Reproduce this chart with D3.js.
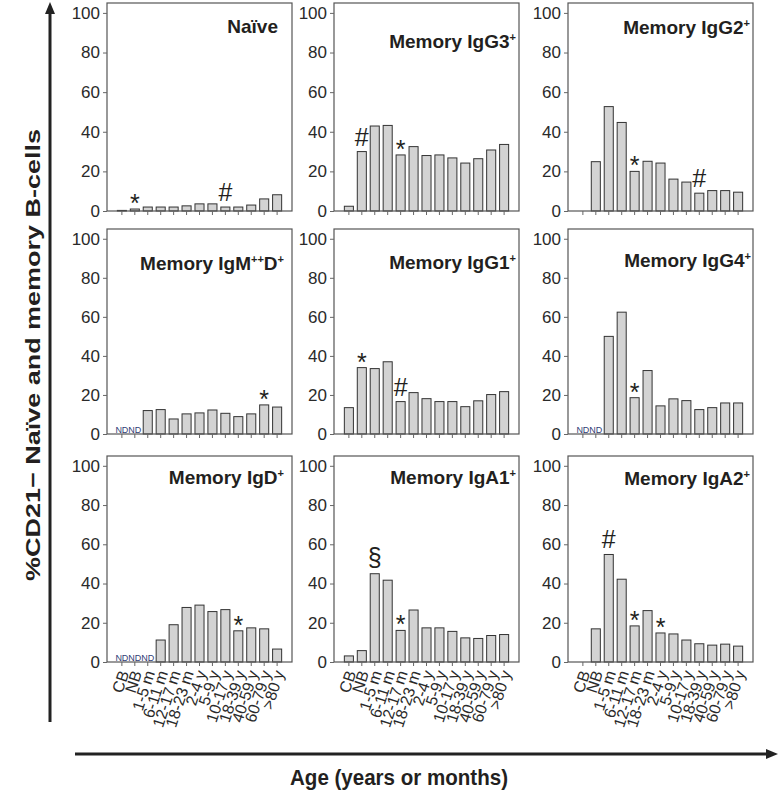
<!DOCTYPE html>
<html>
<head>
<meta charset="utf-8">
<script src="https://cdn.jsdelivr.net/npm/d3@7"></script>
<style>
    body { margin: 0; background: #fff; }
    svg text { font-family: 'Liberation Sans', Arial, sans-serif; }
</style>
</head>
<body>
<div id="chart-area"></div>
<script>
// age groups, same for every panel
const categories = ["CB", "NB", "1-5 m", "6-11 m", "12-17 m", "18-23 m", "2-4 y",
    "5-9 y", "10-17 y", "18-39 y", "40-59 y", "60-79 y", ">80 y"];

const yTicks = [0, 20, 40, 60, 80, 100];

// % CD21- cells per age group ("ND" = not determined, null = no bar)
const naive = [0.3, 1, 2, 2, 2, 2.6, 3.6, 3.6, 2, 2, 3, 6.1, 8.2];
const igg3 = [2.4, 30, 42.9, 43.2, 28.3, 32.5, 28, 28.3, 26.8, 24.2, 26.4, 30.8, 33.6];
const igg2 = [null, 24.9, 52.7, 44.7, 20, 25.1, 24.2, 16.1, 14.6, 9, 10.3, 10.3, 9.5];
const igmd = ["ND", "ND", 12, 12.5, 7.7, 10.3, 10.8, 12.3, 10.6, 8.9, 10.3, 14.9, 13.8];
const igg1 = [13.5, 34, 33.5, 37, 16.6, 21.2, 18.1, 16.6, 16.6, 14, 17, 20.2, 21.7];
const igg4 = ["ND", "ND", 50, 62.4, 18.6, 32.5, 14.4, 18, 17.1, 12.5, 13.5, 15.9, 15.9];
const igd = ["ND", "ND", "ND", 11.2, 19, 27.8, 29, 25.7, 26.7, 15.9, 17.4, 16.9, 6.6];
const iga1 = [3.1, 5.8, 45, 41.7, 16.1, 26.5, 17.4, 17.4, 15.6, 12.3, 12, 13.5, 14];
const iga2 = [null, 16.9, 54.8, 42.2, 18.4, 26.2, 14.8, 14.3, 11.2, 9.3, 8.6, 9.1, 8.1];

// significance symbols above bars
const naiveMarks = [["NB", "*"], ["10-17 y", "#"]];
const igg3Marks = [["NB", "#"], ["12-17 m", "*"]];
const igg2Marks = [["12-17 m", "*"], ["18-39 y", "#"]];
const igmdMarks = [["60-79 y", "*"]];
const igg1Marks = [["NB", "*"], ["12-17 m", "#"]];
const igg4Marks = [["12-17 m", "*"]];
const igdMarks = [["18-39 y", "*"]];
const iga1Marks = [["1-5 m", "§"], ["12-17 m", "*"]];
const iga2Marks = [["1-5 m", "#"], ["12-17 m", "*"], ["2-4 y", "*"]];

// panel titles: [text, superscript?]
const panels = [
    { title: [["Naïve"]], values: naive, marks: naiveMarks, tdx: 14, tdy: 30 },
    { title: [["Memory IgG3"], ["+", 1]], values: igg3, marks: igg3Marks, tdx: 3, tdy: 45 },
    { title: [["Memory IgG2"], ["+", 1]], values: igg2, marks: igg2Marks, tdx: 3, tdy: 31 },
    { title: [["Memory IgM"], ["++", 1], ["D"], ["+", 1]], values: igmd, marks: igmdMarks, tdx: 8, tdy: 41 },
    { title: [["Memory IgG1"], ["+", 1]], values: igg1, marks: igg1Marks, tdx: 3, tdy: 40 },
    { title: [["Memory IgG4"], ["+", 1]], values: igg4, marks: igg4Marks, tdx: 2, tdy: 38 },
    { title: [["Memory IgD"], ["+", 1]], values: igd, marks: igdMarks, tdx: 8, tdy: 28 },
    { title: [["Memory IgA1"], ["+", 1]], values: iga1, marks: iga1Marks, tdx: 3, tdy: 28 },
    { title: [["Memory IgA2"], ["+", 1]], values: iga2, marks: iga2Marks, tdx: 3, tdy: 29 }
];

const width = 782;
const height = 803;

const colX = [107, 334, 568];
const rowTop = [3, 229, 456];
const rowBottom = [211, 434, 662];
const plotW = 185;

const svg = d3.select('#chart-area')
    .append('svg')
    .attr('width', width)
    .attr('height', height);

panels.forEach((p, i) => {
    const col = i % 3;
    const row = Math.floor(i / 3);
    const h = rowBottom[row] - rowTop[row];

    const g = svg.append('g')
        .attr('transform', `translate(${colX[col]}, ${rowTop[row]})`);

    const x = d3.scaleBand()
        .domain(categories)
        .range([0, plotW])
        .paddingInner(0.3)
        .paddingOuter(0.8);

    const y = d3.scaleLinear()
        .domain([0, 105])
        .range([h, 0]);

    const data = categories.map((c, j) => ({ cat: c, v: p.values[j] }));

    g.selectAll('rect.bar')
        .data(data.filter(d => typeof d.v === 'number'))
        .enter()
        .append('rect')
        .attr('class', 'bar')
        .attr('x', d => x(d.cat))
        .attr('y', d => y(d.v))
        .attr('width', x.bandwidth())
        .attr('height', d => h - y(d.v))
        .attr('fill', '#d3d3d3')
        .attr('stroke', '#333')
        .attr('stroke-width', 1);

    g.selectAll('text.nd')
        .data(data.filter(d => d.v === 'ND'))
        .enter()
        .append('text')
        .attr('class', 'nd')
        .attr('x', d => x(d.cat) + x.bandwidth() / 2)
        .attr('y', h - 1.5)
        .attr('text-anchor', 'middle')
        .attr('font-size', '9px')
        .style('fill', '#2f3d75')
        .text('ND');

    const markDy = { '*': 3, '#': -6, '§': -8 };
    g.selectAll('text.mark')
        .data(p.marks)
        .enter()
        .append('text')
        .attr('class', 'mark')
        .attr('x', d => x(d[0]) + x.bandwidth() / 2)
        .attr('y', d => y(p.values[categories.indexOf(d[0])]) + markDy[d[1]])
        .attr('text-anchor', 'middle')
        .attr('font-size', '25px')
        .style('fill', '#231f20')
        .text(d => d[1]);

    g.append('rect')
        .attr('width', plotW)
        .attr('height', h)
        .attr('fill', 'none')
        .attr('stroke', '#555')
        .attr('stroke-width', 1.2);

    const yAxis = d3.axisLeft(y)
        .tickValues(yTicks)
        .tickSize(4)
        .tickPadding(3);
    g.append('g')
        .attr('class', 'y axis')
        .call(yAxis);

    const xAxis = d3.axisBottom(x)
        .tickSize(4)
        .tickFormat(d => row === 2 ? d : '');
    const xg = g.append('g')
        .attr('class', 'x axis')
        .attr('transform', `translate(0, ${h})`)
        .call(xAxis);

    g.selectAll('.axis .domain').remove();
    g.selectAll('.tick line').style('stroke', '#666');
    g.selectAll('.y.axis .tick text')
        .style('fill', '#2a2a2a')
        .attr('font-size', '17px');

    // steep category labels, ending under their tick
    xg.selectAll('text')
        .style('fill', '#2a2a2a')
        .attr('font-size', '16px')
        .attr('text-anchor', 'end')
        .attr('x', 0)
        .attr('y', 0)
        .attr('dx', 0)
        .attr('dy', '0.35em')
        .attr('transform', 'translate(2, 9) rotate(-72)');

    const t = g.append('text')
        .attr('x', plotW - p.tdx)
        .attr('y', p.tdy)
        .attr('text-anchor', 'end')
        .attr('font-size', '19px')
        .attr('font-weight', 'bold')
        .style('fill', '#231f20');
    p.title.forEach((part, k) => {
        const prevSup = k > 0 && p.title[k - 1][1];
        t.append('tspan')
            .attr('font-size', part[1] ? '11px' : '19px')
            .attr('dy', part[1] ? -7 : (prevSup ? 7 : 0))
            .text(part[0]);
    });
});

// arrows along the axes
svg.append('line')
    .attr('x1', 50).attr('y1', 722)
    .attr('x2', 50).attr('y2', 12)
    .attr('stroke', '#222')
    .attr('stroke-width', 3);
svg.append('path')
    .attr('d', 'M50,2 L45,14 L55,14 Z')
    .attr('fill', '#222');

svg.append('line')
    .attr('x1', 75).attr('y1', 754)
    .attr('x2', 768).attr('y2', 754)
    .attr('stroke', '#222')
    .attr('stroke-width', 3);
svg.append('path')
    .attr('d', 'M778,754 L766,749 L766,759 Z')
    .attr('fill', '#222');

svg.append('text')
    .attr('x', 399)
    .attr('y', 785)
    .attr('text-anchor', 'middle')
    .attr('font-size', '22px')
    .attr('font-weight', 'bold')
    .attr('textLength', 218)
    .attr('lengthAdjust', 'spacingAndGlyphs')
    .style('fill', '#231f20')
    .text("Age (years or months)");

svg.append('text')
    .attr('transform', 'translate(40, 355) rotate(-90)')
    .attr('text-anchor', 'middle')
    .attr('font-size', '21px')
    .attr('font-weight', 'bold')
    .attr('textLength', 452)
    .attr('lengthAdjust', 'spacingAndGlyphs')
    .style('fill', '#231f20')
    .text("%CD21− Naïve and memory B-cells");
</script>
</body>
</html>
